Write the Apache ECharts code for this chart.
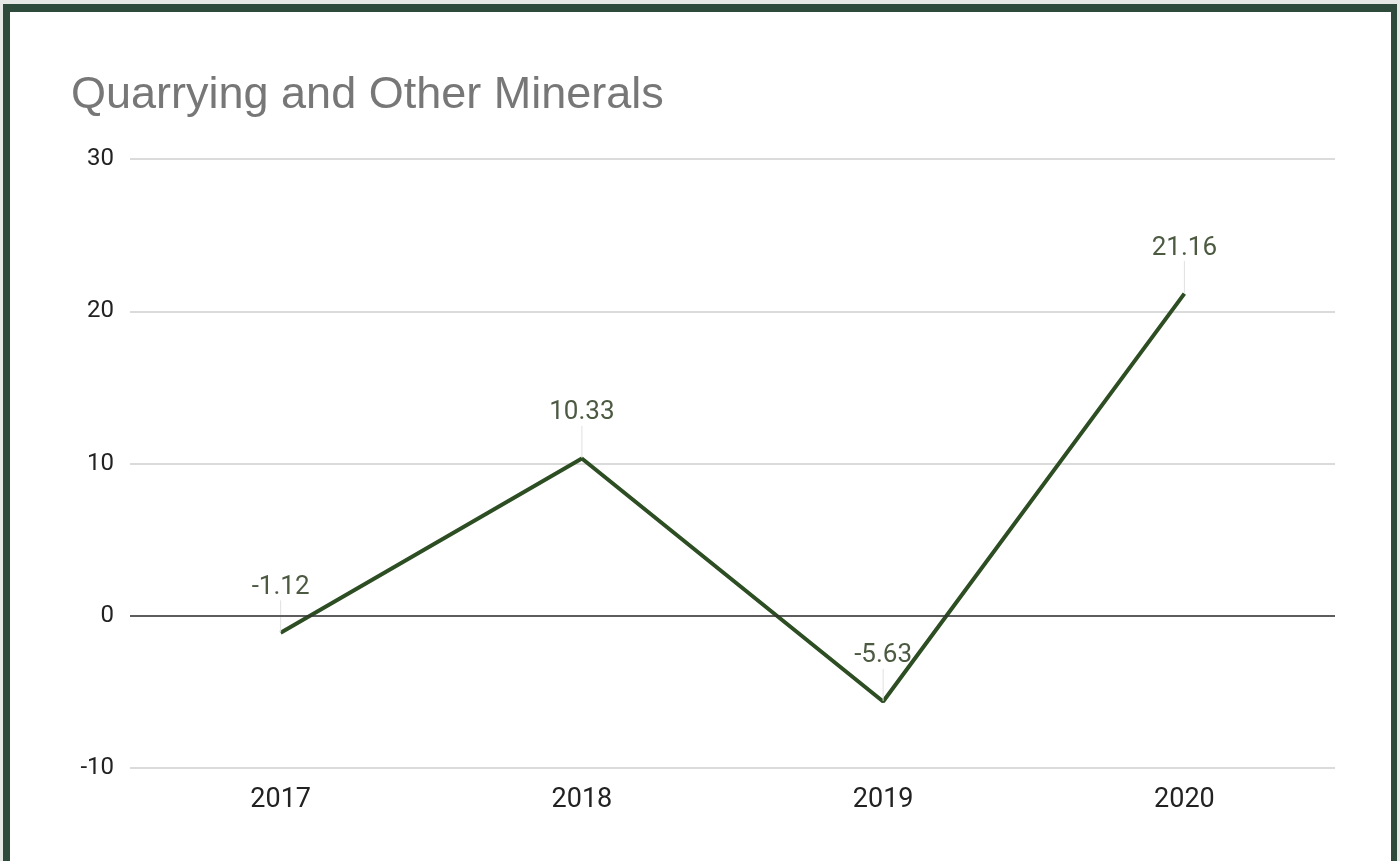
<!DOCTYPE html>
<html><head><meta charset="utf-8">
<script src="https://cdn.jsdelivr.net/npm/echarts@6/dist/echarts.min.js"></script>
<style>
html,body{margin:0;padding:0;background:#e6e8e6;width:1400px;height:861px;overflow:hidden;}
#frame{position:absolute;left:3px;top:4px;width:1381px;height:900px;background:#fff;border-left:7px solid #2d4a3b;border-top:8px solid #2d4a3b;border-right:6px solid #2d4a3b;}
#chart{position:absolute;left:0;top:0;width:1400px;height:861px;}
</style></head>
<body>
<div id="frame"></div>
<div id="chart"></div>
<script>
const titleText = 'Quarrying and Other Minerals';
const categories = ['2017', '2018', '2019', '2020'];
const values = [-1.12, 10.33, -5.63, 21.16];
const yMin = -10, yMax = 30, yInterval = 10;

const chart = echarts.init(document.getElementById('chart'), null, {renderer: 'canvas'});
chart.setOption({
  backgroundColor: 'transparent',
  animation: false,
  title: {
    text: titleText, left: 66, top: 68,
    textStyle: {fontFamily: 'Liberation Sans, Arial', fontWeight: 'normal', fontSize: 45, color: '#777'}
  },
  grid: {left: 130, right: 65, top: 159, bottom: 93},
  xAxis: {
    type: 'category', data: categories, boundaryGap: true,
    axisLine: {show: false}, axisTick: {show: false},
    axisLabel: {fontFamily: 'Roboto', fontSize: 27, color: '#222', margin: 19}
  },
  yAxis: {
    type: 'value', min: yMin, max: yMax, interval: yInterval,
    axisLine: {show: false}, axisTick: {show: false},
    axisLabel: {fontFamily: 'Roboto', fontSize: 24, color: '#222', margin: 16},
    splitLine: {lineStyle: {color: '#cfcfcf', width: 1.5}}
  },
  series: [{
    type: 'line', data: values,
    symbol: 'circle', symbolSize: 1, showSymbol: true,
    itemStyle: {color: 'rgba(0,0,0,0)'},
    lineStyle: {color: '#2d4d22', width: 4},
    label: {show: true, position: 'top', distance: 8,
      fontFamily: 'Roboto', fontSize: 26, color: '#4c5a42',
      formatter: p => p.value.toFixed(2)},
    labelLayout: {dy: -24},
    labelLine: {show: true, lineStyle: {color: '#e0e0e0', width: 1}},
    markLine: {
      silent: true, symbol: 'none', label: {show: false},
      lineStyle: {color: '#333', width: 1.5, type: 'solid'},
      data: [{yAxis: 0}]
    },
    z: 3
  }]
});
</script>
</body></html>
